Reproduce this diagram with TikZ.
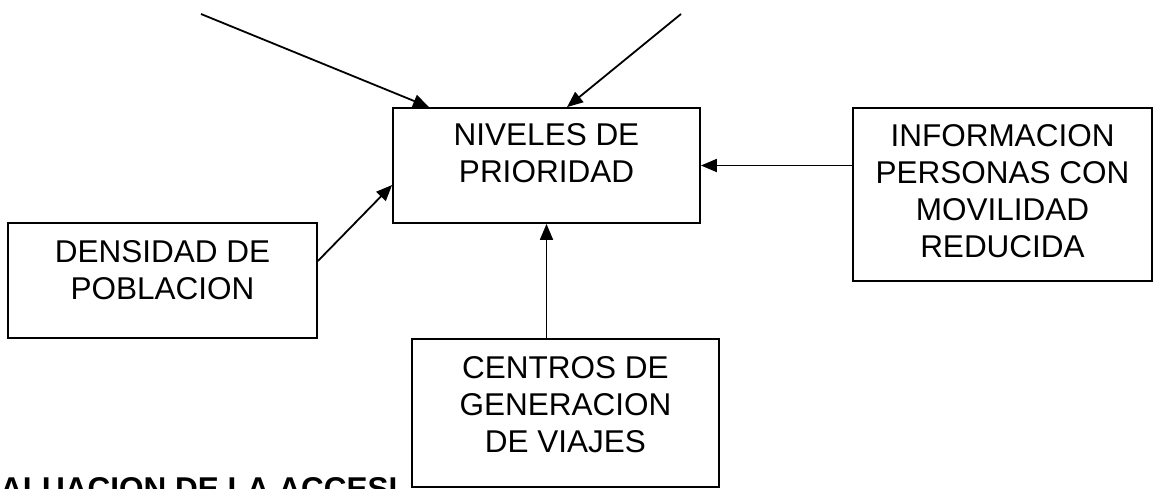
\documentclass[tikz,border=0pt]{standalone}
\usepackage{fontspec}
\setmainfont{Liberation Sans}
\usetikzlibrary{arrows.meta,positioning}
\tikzstyle{factor} = [
  draw,
  rectangle,
  fill=white,
  line width=1.8pt,
  inner sep=0pt,
]
\tikzstyle{label} = [
  align=center,
  inner sep=0pt,
  font=\fontsize{31.5}{37}\selectfont,
]
\tikzstyle{flow} = [
  line width=1.8pt,
  -{Triangle[length=16pt,width=13pt]},
]

\begin{document}
\begin{tikzpicture}[
    x=1pt,
    y=-1pt,
  ]
  \clip (0,0) rectangle (1154,488);
  \node[
    anchor=base west,
    inner sep=0pt,
    font=\fontsize{31.5}{37}\selectfont\bfseries,
  ](titulo) at (0,499) {ALUACION DE LA ACCESI};
  \node[
    factor,
    minimum width=307pt,
    minimum height=115pt,
  ](niveles) at (546.5,165.5) {};
  \node[
    label,
    below=16pt of niveles.north,
  ](nivelest){NIVELES DE\\PRIORIDAD};
  \node[
    factor,
    minimum width=309pt,
    minimum height=115pt,
  ](densidad) at (162.5,280.5) {};
  \node[
    label,
    below=18pt of densidad.north,
  ](densidadt){DENSIDAD DE\\POBLACION};
  \node[
    factor,
    minimum width=307pt,
    minimum height=148pt,
  ](centros) at (565.5,413) {};
  \node[
    label,
    below=18pt of centros.north,
  ](centrost){CENTROS DE\\GENERACION\\DE VIAJES};
  \node[
    factor,
    minimum width=299pt,
    minimum height=173pt,
  ](info) at (1002.5,194.5) {};
  \node[
    label,
    below=17pt of info.north,
  ](infot){INFORMACION\\PERSONAS CON\\MOVILIDAD\\REDUCIDA};
  \coordinate (libreizq) at (201,14);
  \coordinate (libreder) at (681,14);
  \draw [flow] (libreizq) -- ([xshift=37pt]niveles.north west);
  \draw [flow] (libreder) -- ([xshift=20.5pt]niveles.north);
  \draw [flow] ([yshift=19.5pt]densidad.east) -- ([yshift=-19.5pt]niveles.west);
  \draw [flow] (niveles.east -| info.west) -- (niveles.east);
  \draw [flow] (niveles.south |- centros.north) -- (niveles.south);
\end{tikzpicture}
\end{document}
